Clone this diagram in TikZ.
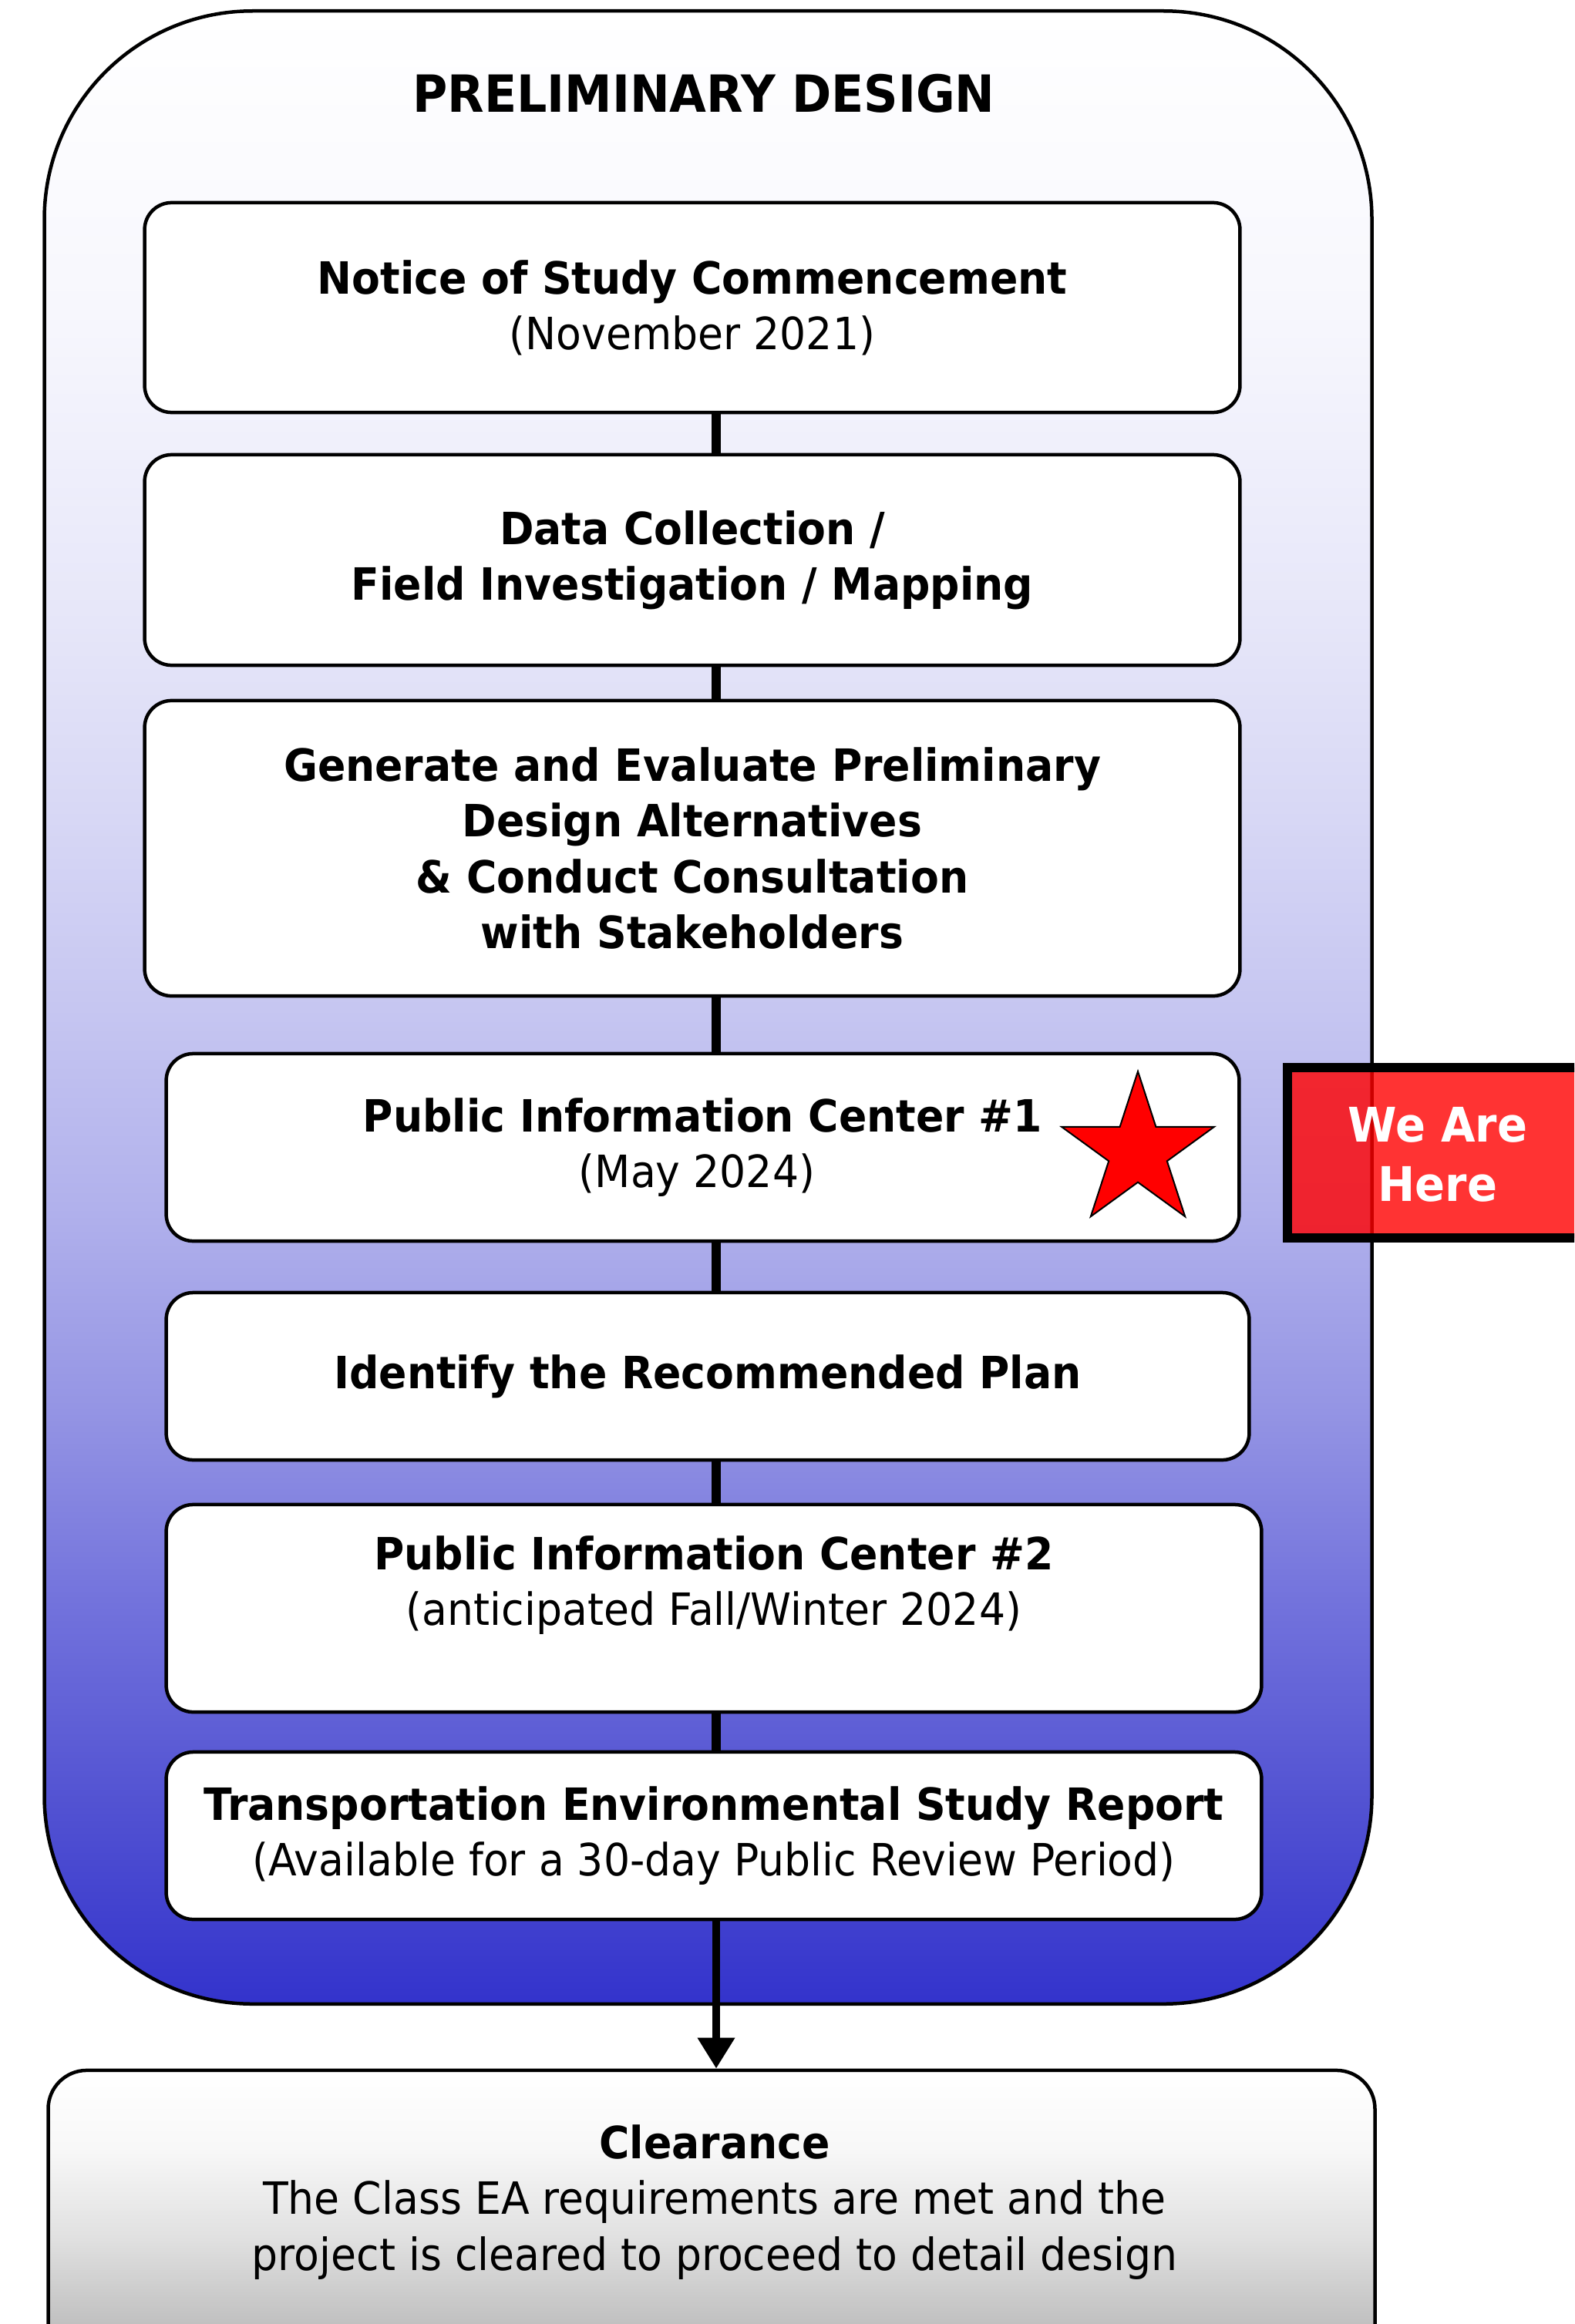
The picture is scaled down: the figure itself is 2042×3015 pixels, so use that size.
\documentclass[tikz,border=0pt]{standalone}
\usepackage{fontspec}
\setmainfont{DejaVu Sans}[FakeStretch=0.93]
\usetikzlibrary{shapes.geometric,arrows.meta}

% blue phase background: white at the top, deepening to blue at the bottom
\definecolor{ph0}{RGB}{51,51,204}
\definecolor{ph1}{RGB}{82,82,210}
\definecolor{ph2}{RGB}{114,114,220}
\definecolor{ph3}{RGB}{149,149,228}
\definecolor{ph4}{RGB}{177,177,236}
\definecolor{ph5}{RGB}{198,198,241}
\definecolor{ph6}{RGB}{216,216,245}
\definecolor{ph7}{RGB}{231,231,249}
\definecolor{ph8}{RGB}{247,247,253}
\pgfdeclareverticalshading{phasefill}{100bp}{%
  color(0bp)=(ph0); color(25bp)=(ph0); color(30bp)=(ph1); color(35bp)=(ph2);
  color(40bp)=(ph3); color(45bp)=(ph4); color(50bp)=(ph5); color(55bp)=(ph6);
  color(60bp)=(ph7); color(67.5bp)=(ph8); color(75bp)=(white); color(100bp)=(white)}

% grey clearance box
\definecolor{gr0}{RGB}{178,178,178}
\definecolor{gr1}{RGB}{192,192,192}
\definecolor{gr2}{RGB}{225,225,225}
\definecolor{gr3}{RGB}{248,248,248}
\pgfdeclareverticalshading{clearfill}{100bp}{%
  color(0bp)=(gr0); color(25bp)=(gr0); color(32bp)=(gr1); color(47bp)=(gr2);
  color(62bp)=(gr3); color(75bp)=(white); color(100bp)=(white)}

\tikzset{
  stepfont/.style={font=\fontsize{16.4pt}{20.5pt}\selectfont},
  stepbox/.style={draw, line width=0.045cm, rounded corners=0.35cm, fill=white,
    inner sep=0pt, align=center, stepfont},
  link/.style={line width=0.12cm},
}

\begin{document}
\begin{tikzpicture}[x=0.01cm, y=-0.01cm]
  \useasboundingbox (0,0) rectangle (2042,3015);
  \clip (0,0) rectangle (2042,3015);
  \fill[white] (0,0) rectangle (2042,3015);

  % preliminary design phase container
  \node[draw, line width=0.045cm, shading=phasefill, rounded corners=2.7cm,
        minimum width=17.21cm, minimum height=25.84cm, inner sep=0pt]
        (phase) at (918.5,1307) {};
  \node[font=\fontsize{18.9pt}{22pt}\selectfont\bfseries] (title) at (913,121)
        {PRELIMINARY DESIGN};

  % vertical spine of the process
  \coordinate (spine) at (929,0);

  % process steps
  \node[stepbox, minimum width=14.2cm, minimum height=2.72cm] (b1) at (898,399)
    {\textbf{Notice of Study Commencement}\\(November 2021)};
  \node[stepbox, minimum width=14.2cm, minimum height=2.73cm] (b2) at (898,726.5)
    {\textbf{Data Collection /}\\\textbf{Field Investigation / Mapping}};
  \node[stepbox, minimum width=14.2cm, minimum height=3.83cm] (b3) at (898,1100.5)
    {\textbf{Generate and Evaluate Preliminary}\\\textbf{Design Alternatives}\\
     \textbf{\& Conduct Consultation}\\\textbf{with Stakeholders}};
  \node[stepbox, minimum width=13.91cm, minimum height=2.43cm] (b4) at (911.5,1488.5)
    {\textbf{Public Information Center \#1}\\(May 2024)\hspace*{0.15cm}};
  \node[stepbox, minimum width=14.04cm, minimum height=2.17cm] (b5) at (918,1785.5)
    {\textbf{Identify the Recommended Plan}};
  \node[stepbox, minimum width=14.2cm, minimum height=2.69cm] (b6) at (926,2086.5)
    {\textbf{Public Information Center \#2}\\(anticipated Fall/Winter 2024)\\\mbox{}};
  \node[stepbox, minimum width=14.2cm, minimum height=2.17cm] (b7) at (926,2381.5)
    {\textbf{Transportation Environmental Study Report}\\(Available for a 30-day Public Review Period)};

  % current-stage marker
  \node[star, star points=5, star point ratio=2.618, minimum size=2.08cm,
        inner sep=0pt, draw, line width=0.02cm, fill=red] (mark) at (1476,1494) {};

  % links between steps
  \draw[link] (b1.south -| spine) -- (b2.north -| spine);
  \draw[link] (b2.south -| spine) -- (b3.north -| spine);
  \draw[link] (b3.south -| spine) -- (b4.north -| spine);
  \draw[link] (b4.south -| spine) -- (b5.north -| spine);
  \draw[link] (b5.south -| spine) -- (b6.north -| spine);
  \draw[link] (b6.south -| spine) -- (b7.north -| spine);

  % clearance
  \node[draw, line width=0.045cm, shading=clearfill, rounded corners=0.5cm,
        minimum width=17.2cm, minimum height=3.84cm, inner sep=0pt]
        (clear) at (923,2878) {};
  \node[stepfont, align=center, inner sep=0pt] (cleartext) at (927,2857)
    {\textbf{Clearance}\\The Class EA requirements are met and the\\
     project is cleared to proceed to detail design};
  \draw[line width=0.1cm, -{Triangle[length=0.4cm, width=0.46cm]}]
    (b7.south -| spine) -- (clear.north -| spine);

  % "we are here" callout
  \node[draw=black, line width=0.12cm, fill=red, fill opacity=0.8, draw opacity=1,
        minimum width=4.8cm, minimum height=2.21cm, inner sep=0pt]
        (here) at (1910,1495.5) {};
  \node[text=white, align=center, inner sep=0pt,
        font=\fontsize{17.6pt}{21.9pt}\selectfont\bfseries] (heretext) at (1865,1498)
    {We Are\\Here};
\end{tikzpicture}
\end{document}
